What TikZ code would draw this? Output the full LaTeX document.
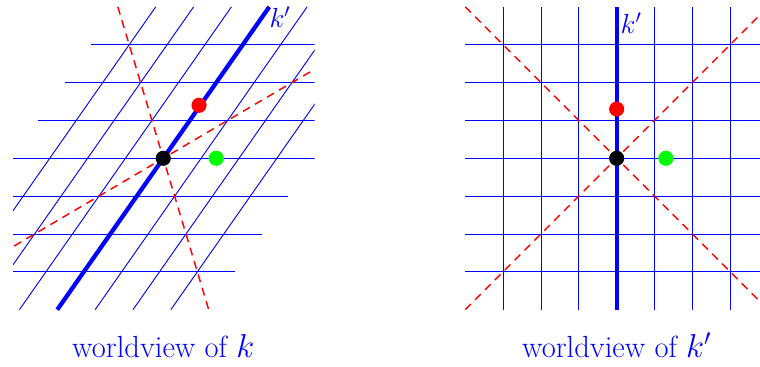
\documentclass[tikz,border=0pt]{standalone}
\begin{document}
\begin{tikzpicture}[
  grid/.style={blue, line width=0.7pt},
  wl/.style={blue, line width=3.2pt},
  light/.style={red, line width=1.1pt, dash pattern=on 6pt off 4.5pt},
  dot/.style={circle, inner sep=0pt, minimum size=0.4cm},
  lbl/.style={text=blue, font=\fontsize{20.5}{24}\selectfont, inner sep=0pt},
  captxt/.style={text=blue, font=\fontsize{23}{27}\selectfont, inner sep=0pt}
]
\useasboundingbox (0,0) rectangle (20.08,9.696);
\clip (0,0) rectangle (20.08,9.696);
% ---------- left panel: worldview of k ----------
\begin{scope}[shift={(4.314,5.514)}]
  \begin{scope}
    \clip (-3.97,-4.2) rectangle (4.0,4.2);
    \begin{scope}[xslant=0.7]
      \foreach \k in {-3,...,3} {
        \draw[grid] (-4,\k) -- (4,\k);
        \draw[grid] (\k,-4) -- (\k,4);
      }
      \draw[wl] (0,-4) -- (0,4);
      \draw[light] (-4,-4) -- (4,4);
      \draw[light] (-4,4) -- (4,-4);
    \end{scope}
  \end{scope}
  \node[dot, fill=red] (ra) at (0.945,1.40) {};
  \node[dot, fill=green] (ga) at (1.40,0) {};
  \node[dot, fill=black] (oa) at (0,0) {};
  \node[lbl, anchor=base west] (ka) at (2.80,3.46) {$k'$};
  \node[captxt, anchor=base] (ca) at (0,-5.27) {worldview of $k$};
\end{scope}
% ---------- right panel: worldview of k' ----------
\begin{scope}[shift={(16.293,5.514)}]
  \foreach \k in {-3,...,3} {
    \draw[grid] (-4,\k) -- (4,\k);
    \draw[grid] (\k,-4) -- (\k,4);
  }
  \draw[wl] (0,-4) -- (0,4);
  \draw[light] (-4,-4) -- (4,4);
  \draw[light] (-4,4) -- (4,-4);
  \node[dot, fill=red] (rb) at (0,1.30) {};
  \node[dot, fill=green] (gb) at (1.30,0) {};
  \node[dot, fill=black] (ob) at (0,0) {};
  \node[lbl, anchor=base west] (kb) at (0.10,3.30) {$k'$};
  \node[captxt, anchor=base] (cb) at (0,-5.27) {worldview of $k'$};
\end{scope}
\end{tikzpicture}
\end{document}
